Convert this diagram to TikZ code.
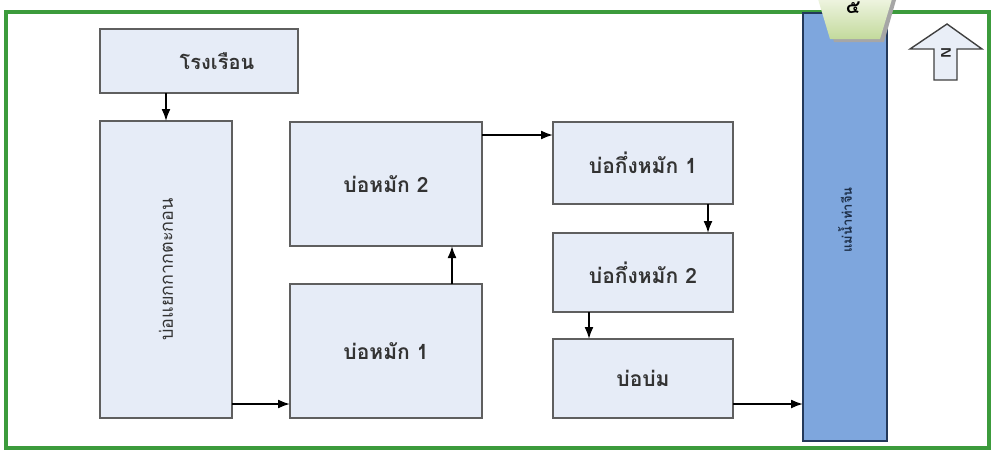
\documentclass[tikz,border=0pt]{standalone}
\usepackage{fontspec}
\newfontfamily\thaifont[Script=Thai]{Loma}
\usetikzlibrary{arrows.meta,calc}
\definecolor{boxfill}{HTML}{E6ECF7}
\definecolor{boxline}{HTML}{5F5F5F}
\definecolor{riverfill}{HTML}{7EA6DD}
\definecolor{riverline}{HTML}{23395A}
\definecolor{framegreen}{HTML}{3C9B3C}
\definecolor{badgetop}{HTML}{EEF4E0}
\definecolor{badgebot}{HTML}{C3DA9C}
\definecolor{northfill}{HTML}{E9EEF7}
\tikzset{
  box/.style={draw=boxline, fill=boxfill, line width=1.8pt, inner sep=0pt, outer sep=0pt, anchor=north west,
              font=\thaifont\bfseries\fontsize{21}{24}\selectfont, text=black!80},
  arr/.style={-{Latex[length=12pt,width=9pt]}, line width=1.8pt, black},
}
\begin{document}
\begin{tikzpicture}[x=1pt,y=-1pt]
\useasboundingbox (0,0) rectangle (992,451);
\fill[white] (0,0) rectangle (992,451);
% frame
\draw[framegreen, line width=3.2pt] (6,12) rectangle (989,448);
% boxes
\node[box, minimum width=198pt, minimum height=64pt] (rong) at (100,29) {};
\node[font=\thaifont\bfseries\fontsize{20}{24}\selectfont, text=black!80] (rongt) at ([xshift=18pt]rong.center) {โรงเรือน};
\node[box, minimum width=132pt, minimum height=297pt] (tall) at (100,121) {};
\node[font=\thaifont\fontsize{18}{20}\selectfont, rotate=90, text=black!80] (tallt) at (tall.center) {บ่อแยกกากตะกอน};
\node[box, minimum width=192pt, minimum height=124pt] (m2) at (290,122) {บ่อหมัก 2};
\node[box, minimum width=192pt, minimum height=134pt] (m1) at (290,284) {บ่อหมัก 1};
\node[box, minimum width=180pt, minimum height=82pt] (s1) at (553,122) {บ่อกึ่งหมัก 1};
\node[box, minimum width=180pt, minimum height=79pt] (s2) at (553,233) {บ่อกึ่งหมัก 2};
\node[box, minimum width=180pt, minimum height=79pt] (bm) at (553,339) {บ่อบ่ม};
\node[draw=riverline, fill=riverfill, line width=1.8pt, inner sep=0pt, outer sep=0pt, anchor=north west,
      minimum width=84pt, minimum height=428pt] (river) at (803,13) {};
\node[font=\thaifont\bfseries\fontsize{13}{16}\selectfont, rotate=90, text=riverline!80!black] (rivert) at ([yshift=7pt]river.center) {แม่น้ำท่าจีน};
% arrows
\draw[arr] (tall.north |- rong.south) -- (tall.north);
\draw[arr] ([yshift=14pt]tall.south east) -- ([yshift=14pt]m1.south west);
\draw[arr] ([xshift=-30pt]m1.north east) -- ([xshift=-30pt]m2.south east);
\draw[arr] ([yshift=-13pt]m2.north east) -- ([yshift=-13pt]s1.north west);
\draw[arr] ([xshift=-25pt]s1.south east) -- ([xshift=-25pt]s2.north east);
\draw[arr] ([xshift=36pt]s2.south west) -- ([xshift=36pt]bm.north west);
\draw[arr] ([yshift=14pt]bm.south east) -- ([yshift=14pt]bm.south east -| river.west);
% badge
\fill[black!35] (822,0) -- (896,0) -- (884,42) -- (834,42) -- cycle;
\shade[top color=badgetop, bottom color=badgebot] (818,-1) -- (892,-1) -- (880,39) -- (830,39) -- cycle;
\node[font=\thaifont\bfseries\fontsize{19}{20}\selectfont] (num) at (853,8) {๕};
% north arrow
\draw[draw=black!75, fill=northfill, line width=1.4pt, line join=miter]
  (947,24) -- (982,49) -- (957,49) -- (957,80) -- (934,80) -- (934,49) -- (910,49) -- cycle;
\node[font=\sffamily\bfseries\fontsize{14}{14}\selectfont, rotate=90, text=black!85] (nlab) at (946,53) {N};
\end{tikzpicture}
\end{document}
